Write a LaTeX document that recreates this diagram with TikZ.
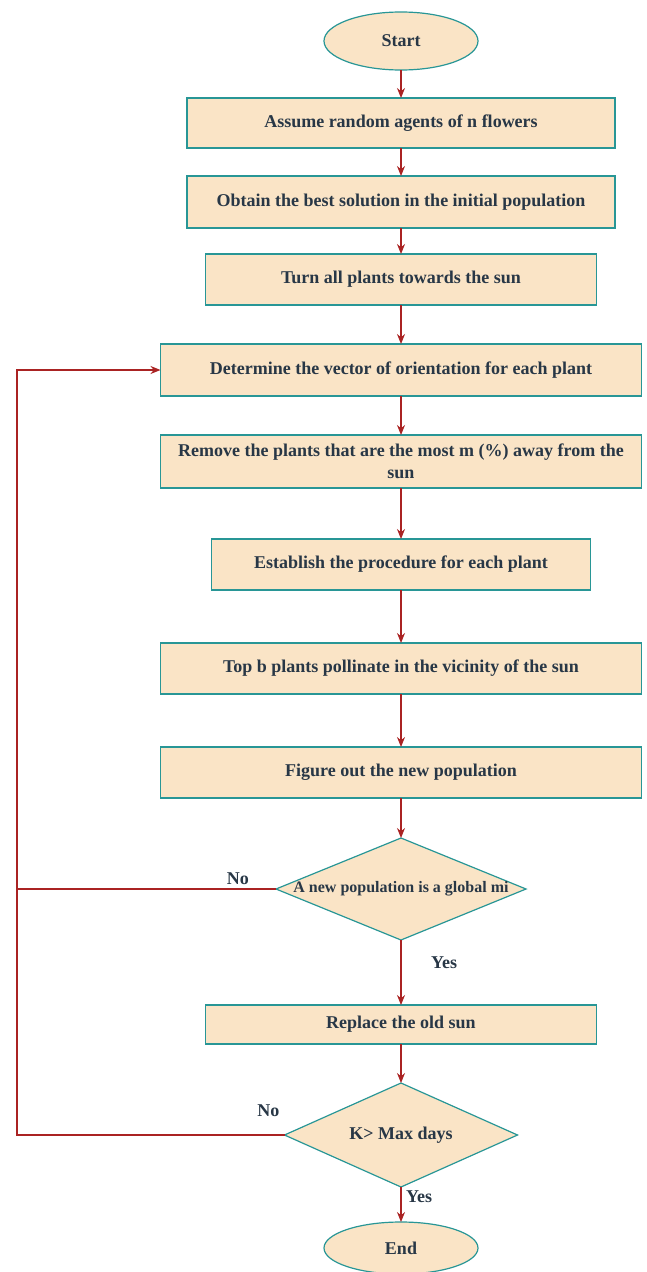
\documentclass[tikz,border=0pt]{standalone}
\usepackage{fontspec}
\setmainfont{Liberation Serif}
\usetikzlibrary{shapes.geometric, arrows.meta, positioning, calc}
\definecolor{boxfill}{RGB}{250, 228, 198}
\definecolor{boxline}{RGB}{40, 150, 150}
\definecolor{flowred}{RGB}{170, 35, 35}
\definecolor{textcol}{RGB}{40, 55, 70}

\begin{document}
\begin{tikzpicture}[
    x=1pt, y=1pt,
    procbox/.style={draw=boxline, fill=boxfill, line width=1.2pt, outer sep=0pt, minimum height=51pt, text=textcol, font=\fontsize{18}{23}\selectfont\bfseries, align=center},
    term/.style={ellipse, draw=boxline, fill=boxfill, line width=1.2pt, outer sep=0pt, minimum width=154pt, minimum height=58pt, text=textcol, font=\fontsize{18}{23}\selectfont\bfseries},
    decide/.style={diamond, draw=boxline, fill=boxfill, line width=1.2pt, outer sep=0pt, inner sep=0pt, text=textcol, font=\fontsize{18}{23}\selectfont\bfseries},
    arrow/.style={-{Stealth[length=10pt, width=8pt]}, line width=1.2pt, flowred},
    line/.style={line width=1.2pt, flowred},
    lbl/.style={inner sep=0pt, text=textcol, font=\fontsize{18}{20}\selectfont\bfseries}
]
    \useasboundingbox (0,0) rectangle (646,-1272);
    % Nodes
    \node[term] (start) at (401,-41) {Start};
    \node[procbox, minimum width=428pt, minimum height=50pt, below=28pt of start] (assume) {Assume random agents of n flowers};
    \node[procbox, minimum width=428pt, minimum height=52pt, below=28pt of assume] (best) {Obtain the best solution in the initial population};
    \node[procbox, minimum width=391pt, below=26pt of best] (turn) {Turn all plants towards the sun};
    \node[procbox, minimum width=481pt, minimum height=52pt, below=39pt of turn] (orient) {Determine the vector of orientation for each plant};
    \node[procbox, minimum width=481pt, minimum height=53pt, below=39pt of orient] (remove) {Remove the plants that are the most m (\%) away from the\\[-1pt]sun};
    \node[procbox, minimum width=379pt, below=51pt of remove] (establish) {Establish the procedure for each plant};
    \node[procbox, minimum width=481pt, below=53pt of establish] (pollinate) {Top b plants pollinate in the vicinity of the sun};
    \node[procbox, minimum width=481pt, below=53pt of pollinate] (figure) {Figure out the new population};
    \node[decide, minimum width=250pt, minimum height=102pt, below=40pt of figure, font=\fontsize{16}{20}\selectfont\bfseries] (isglobal) {\makebox[0pt]{A new population is a global mi}};
    \node[procbox, minimum width=391pt, minimum height=39pt, below=65pt of isglobal] (replace) {Replace the old sun};
    \node[decide, minimum width=233pt, minimum height=104pt, below=39pt of replace] (maxdays) {\makebox[0pt]{K> Max days}};
    \node[term, minimum height=52pt, below=35pt of maxdays] (stop) {End};

    % Arrows
    \draw[arrow] (start) -- (assume);
    \draw[arrow] (assume) -- (best);
    \draw[arrow] (best) -- (turn);
    \draw[arrow] (turn) -- (orient);
    \draw[arrow] (orient) -- (remove);
    \draw[arrow] (remove) -- (establish);
    \draw[arrow] (establish) -- (pollinate);
    \draw[arrow] (pollinate) -- (figure);
    \draw[arrow] (figure) -- (isglobal);
    \draw[arrow] (isglobal) -- (replace);
    \draw[arrow] (replace) -- (maxdays);
    \draw[arrow] (maxdays) -- (stop);

    % Loop back
    \coordinate (rail) at ($(isglobal.west)+(-259,0)$);
    \draw[arrow] (isglobal.west) -- (rail) |- (orient.west);
    \draw[line] (maxdays.west) -| (rail);

    % Labels
    \node[lbl, above left=4pt and 27pt of isglobal.west] {No};
    \node[lbl, above left=18pt and 5pt of maxdays.west] {No};
    \node[lbl, below right=17pt and 30pt of isglobal.south] {Yes};
    \node[lbl, below right=3pt and 5pt of maxdays.south] {Yes};
\end{tikzpicture}
\end{document}
